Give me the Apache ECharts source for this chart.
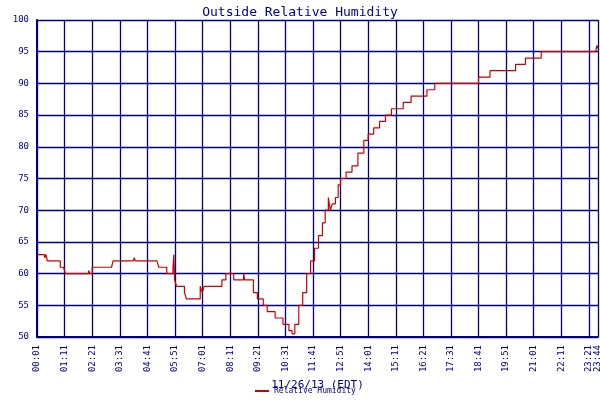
<!DOCTYPE html><html><head><meta charset="utf-8"><script src="https://cdn.jsdelivr.net/npm/echarts@6/dist/echarts.min.js"></script></head><body style="margin:0;background:#fff"><div id="c" style="width:600px;height:400px"></div><script>
var times=["00:01","00:20","00:24","00:27","00:30","01:00","01:08","01:11","01:13","01:15","02:12","02:15","02:21","02:24","03:10","03:14","04:05","04:08","04:10","04:41","05:05","05:10","05:30","05:46","05:48","05:50","05:52","05:55","06:15","06:20","06:30","06:55","07:00","07:05","07:25","07:50","08:00","08:20","08:45","08:48","09:00","09:10","09:20","09:35","09:45","10:05","10:25","10:40","10:48","10:55","11:05","11:15","11:25","11:35","11:45","11:55","12:05","12:12","12:20","12:25","12:30","12:38","12:45","12:51","13:05","13:20","13:35","13:50","14:01","14:15","14:30","14:45","15:00","15:30","15:50","16:10","16:30","16:50","17:40","18:41","19:10","19:51","20:15","20:40","21:00","21:20","22:11","23:38","23:41","23:44"];
var humidity=[63,62.5,63,62,62,61,61,60.5,60,60,60.5,60,61,61,61,62,62,62.5,62,62,62,61,60,61,63,59,59,58,57,56,56,58,57,58,58,59,60,59,60,59,59,57,56,55,54,53,52,51,50.5,52,55,57,60,62,64,66,68,70,72,70,71,72,74,75,76,77,79,81,82,83,84,85,86,87,88,88,89,90,90,91,92,92,93,94,94,95,95,95,96,95.5];
function toMin(t){var p=t.split(':');return (+p[0])*60+(+p[1])-1;}
function lab(v){var m=v+1,h=Math.floor(m/60),mm=m%60;return (h<10?'0':'')+h+':'+(mm<10?'0':'')+mm;}
var data=times.map(function(t,i){return [toMin(t),humidity[i]];});
var navy='#000080',F='DejaVu Sans Mono';
var ch=echarts.init(document.getElementById('c'));
ch.setOption({animation:false,
title:{text:'Outside Relative Humidity',left:'center',top:1,textStyle:{color:navy,fontFamily:F,fontSize:13,fontWeight:'normal'}},
legend:{bottom:0,left:250,itemWidth:14,itemHeight:2,icon:'rect',textStyle:{color:navy,fontFamily:F,fontSize:8},data:['Relative Humidity']},
grid:{left:37,right:2,top:20,bottom:63,containLabel:false,outerBoundsMode:'none'},
xAxis:{type:'value',min:0,max:1423,interval:70,name:'11/26/13 (EDT)',nameLocation:'middle',nameGap:42,nameTextStyle:{color:navy,fontFamily:F,fontSize:11},
axisLine:{lineStyle:{color:navy,width:2}},axisTick:{show:false},
axisLabel:{rotate:90,color:navy,fontFamily:F,fontSize:9,showMaxLabel:true,hideOverlap:false,formatter:lab},
splitLine:{lineStyle:{color:navy,width:1.3}}},
yAxis:{type:'value',min:50,max:100,interval:5,name:'Per Cent',nameLocation:'middle',nameGap:24,nameTextStyle:{color:navy,fontFamily:F,fontSize:11},
axisLine:{show:true,lineStyle:{color:navy,width:2}},axisTick:{show:false},axisLabel:{color:navy,fontFamily:F,fontSize:9},
splitLine:{lineStyle:{color:navy,width:1.3}}},
series:[{name:'Relative Humidity',type:'line',step:'end',data:data,symbol:'none',lineStyle:{color:'#cc0000',width:1.2},itemStyle:{color:'#cc0000'}}]});
</script></body></html>
